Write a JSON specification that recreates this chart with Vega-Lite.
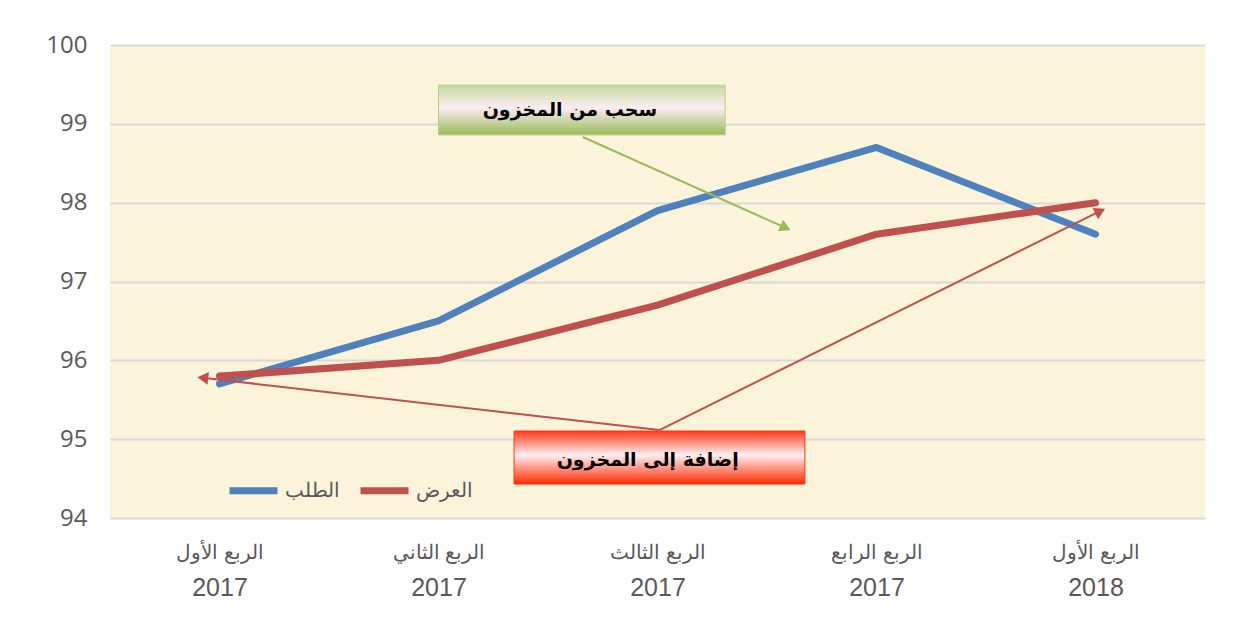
{
  "$schema": "https://vega.github.io/schema/vega-lite/v6.json",
  "width": 1095,
  "height": 473,
  "autosize": {"type": "none"},
  "padding": {"left": 110, "top": 45, "right": 49, "bottom": 112},
  "background": "#ffffff",
  "config": {
    "view": {"fill": "#fcf3db", "stroke": null},
    "font": "Liberation Sans"
  },
  "datasets": {
    "series": [
      {"q": 0, "series": "الطلب", "v": 95.7},
      {"q": 1, "series": "الطلب", "v": 96.5},
      {"q": 2, "series": "الطلب", "v": 97.9},
      {"q": 3, "series": "الطلب", "v": 98.7},
      {"q": 4, "series": "الطلب", "v": 97.6},
      {"q": 0, "series": "العرض", "v": 95.8},
      {"q": 1, "series": "العرض", "v": 96.0},
      {"q": 2, "series": "العرض", "v": 96.7},
      {"q": 3, "series": "العرض", "v": 97.6},
      {"q": 4, "series": "العرض", "v": 98.0}
    ],
    "boxes": [
      {"box": "withdraw", "x1": 1.0, "x2": 2.309, "y1": 99.49, "y2": 98.86, "tx": 1.6, "ty": 99.175, "label": "سحب من المخزون"},
      {"box": "add", "x1": 1.345, "x2": 2.673, "y1": 95.103, "y2": 94.431, "tx": 1.955, "ty": 94.74, "label": "إضافة إلى المخزون"}
    ],
    "arrows": [
      {"arrow": "withdraw", "x": 1.659, "y": 98.833, "xe": 2.577, "ye": 97.691},
      {"arrow": "add_first", "x": 2.009, "y": 95.116, "xe": -0.068, "ye": 95.776},
      {"arrow": "add_last", "x": 2.009, "y": 95.116, "xe": 4.014, "ye": 97.882}
    ]
  },
  "resolve": {"axis": {"x": "independent"}},
  "layer": [
    {
      "data": {"name": "series"},
      "mark": {"type": "line", "strokeWidth": 7, "strokeCap": "round", "strokeJoin": "round"},
      "encoding": {
        "x": {
          "field": "q", "type": "quantitative",
          "scale": {"domain": [-0.5, 4.5], "nice": false, "zero": false},
          "axis": {
            "orient": "bottom",
            "values": [0, 1, 2, 3, 4],
            "labelExpr": "['الربع الأول','الربع الثاني','الربع الثالث','الربع الرابع','الربع الأول'][datum.value]",
            "grid": false, "domain": false, "ticks": false,
            "labelFontSize": 20, "labelPadding": 24,
            "labelColor": "#595959", "title": null, "labelOverlap": false
          }
        },
        "y": {
          "field": "v", "type": "quantitative",
          "scale": {"domain": [94, 100], "nice": false, "zero": false},
          "axis": {
            "values": [94, 95, 96, 97, 98, 99, 100],
            "format": "d",
            "grid": true, "gridColor": "#d9d9d9", "gridWidth": 2,
            "domain": false, "ticks": false,
            "labelFont": "Open Sans",
            "labelFontSize": 24, "labelColor": "#595959", "labelPadding": 23,
            "title": null
          }
        },
        "color": {
          "field": "series", "type": "nominal",
          "scale": {"domain": ["الطلب", "العرض"], "range": ["#4f81bd", "#c0504d"]},
          "legend": {
            "orient": "none", "legendX": 116, "legendY": 418,
            "direction": "horizontal", "title": null,
            "symbolType": "stroke", "symbolStrokeWidth": 7, "symbolSize": 2304,
            "labelFontSize": 20, "labelColor": "#595959",
            "columnPadding": 6, "labelOffset": 4, "padding": 0
          }
        }
      }
    },
    {
      "data": {"name": "arrows"},
      "transform": [{"filter": "datum.arrow == 'withdraw'"}],
      "mark": {"type": "rule", "strokeWidth": 2, "color": "#9bbb59"},
      "encoding": {
        "x": {
          "field": "x", "type": "quantitative",
          "scale": {"domain": [-0.5, 4.5], "nice": false, "zero": false},
          "axis": {
            "orient": "bottom",
            "values": [0, 1, 2, 3, 4],
            "labelExpr": "['2017','2017','2017','2017','2018'][datum.value]",
            "grid": false, "domain": false, "ticks": false,
            "labelFontSize": 25, "labelPadding": 57,
            "labelColor": "#595959", "title": null, "labelOverlap": false
          }
        },
        "y": {"field": "y", "type": "quantitative", "scale": {"domain": [94, 100], "nice": false, "zero": false}},
        "x2": {"field": "xe"},
        "y2": {"field": "ye"}
      }
    },
    {
      "data": {"name": "arrows"},
      "transform": [{"filter": "datum.arrow != 'withdraw'"}],
      "mark": {"type": "rule", "strokeWidth": 2, "color": "#c0504d"},
      "encoding": {
        "x": {"field": "x", "type": "quantitative", "axis": null},
        "y": {"field": "y", "type": "quantitative"},
        "x2": {"field": "xe"},
        "y2": {"field": "ye"}
      }
    },
    {
      "data": {"name": "arrows"},
      "transform": [{"filter": "datum.arrow == 'withdraw'"}],
      "mark": {"type": "point", "shape": "triangle", "filled": true, "size": 160, "angle": 114, "color": "#9bbb59", "opacity": 1},
      "encoding": {
        "x": {"field": "xe", "type": "quantitative", "axis": null},
        "y": {"field": "ye", "type": "quantitative"}
      }
    },
    {
      "data": {"name": "arrows"},
      "transform": [{"filter": "datum.arrow == 'add_first'"}],
      "mark": {"type": "point", "shape": "triangle", "filled": true, "size": 160, "angle": 276.5, "color": "#c0504d", "opacity": 1},
      "encoding": {
        "x": {"field": "xe", "type": "quantitative", "axis": null},
        "y": {"field": "ye", "type": "quantitative"}
      }
    },
    {
      "data": {"name": "arrows"},
      "transform": [{"filter": "datum.arrow == 'add_last'"}],
      "mark": {"type": "point", "shape": "triangle", "filled": true, "size": 160, "angle": 63.7, "color": "#c0504d", "opacity": 1},
      "encoding": {
        "x": {"field": "xe", "type": "quantitative", "axis": null},
        "y": {"field": "ye", "type": "quantitative"}
      }
    },
    {
      "data": {"name": "boxes"},
      "transform": [{"filter": "datum.box == 'withdraw'"}],
      "mark": {
        "type": "rect",
        "fill": {"gradient": "linear", "x1": 0, "y1": 0, "x2": 0, "y2": 1,
          "stops": [{"offset": 0, "color": "#c5d9a0"}, {"offset": 0.45, "color": "#fcecf2"}, {"offset": 1, "color": "#9bbb59"}]},
        "stroke": "#b5cf86", "strokeWidth": 1
      },
      "encoding": {
        "x": {"field": "x1", "type": "quantitative", "axis": null},
        "x2": {"field": "x2"},
        "y": {"field": "y1", "type": "quantitative"},
        "y2": {"field": "y2"}
      }
    },
    {
      "data": {"name": "boxes"},
      "transform": [{"filter": "datum.box == 'add'"}],
      "mark": {
        "type": "rect",
        "fill": {"gradient": "linear", "x1": 0, "y1": 0, "x2": 0, "y2": 1,
          "stops": [{"offset": 0, "color": "#ff3a1a"}, {"offset": 0.45, "color": "#fff0f2"}, {"offset": 1, "color": "#ff2a00"}]},
        "stroke": "#ff3300", "strokeWidth": 1
      },
      "encoding": {
        "x": {"field": "x1", "type": "quantitative", "axis": null},
        "x2": {"field": "x2"},
        "y": {"field": "y1", "type": "quantitative"},
        "y2": {"field": "y2"}
      }
    },
    {
      "data": {"name": "boxes"},
      "mark": {"type": "text", "font": "DejaVu Sans", "fontWeight": "bold", "fontSize": 19, "color": "#000000", "align": "center", "baseline": "middle"},
      "encoding": {
        "x": {"field": "tx", "type": "quantitative", "axis": null},
        "y": {"field": "ty", "type": "quantitative"},
        "text": {"field": "label"}
      }
    }
  ]
}
